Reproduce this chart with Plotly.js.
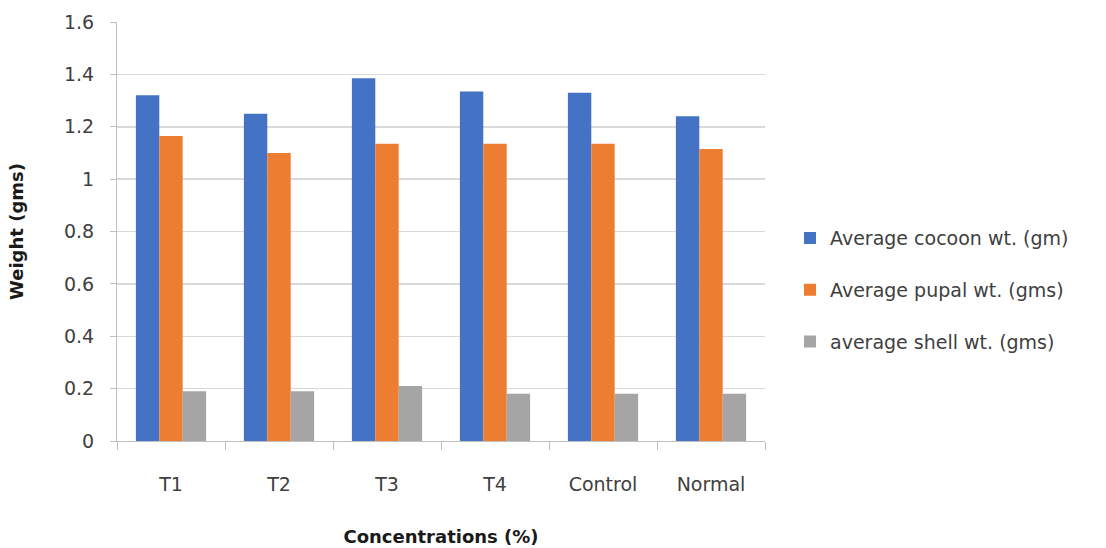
<!DOCTYPE html>
<html>
<head>
<meta charset="utf-8">
<script src="https://cdn.plot.ly/plotly-3.0.1.min.js"></script>
<style>html,body{margin:0;padding:0;background:#fff;}#chart{width:1106px;height:548px;}</style>
</head>
<body>
<div id="chart"></div>
<script>
var categories = ["T1", "T2", "T3", "T4", "Control", "Normal"];
var cocoonWt = [1.32, 1.25, 1.385, 1.335, 1.33, 1.24];
var pupalWt = [1.165, 1.10, 1.135, 1.135, 1.135, 1.115];
var shellWt = [0.19, 0.19, 0.21, 0.18, 0.18, 0.18];
var seriesNames = ["Average cocoon wt. (gm)", "Average pupal wt. (gms)", "average shell wt. (gms)"];
var yTicks = [0, 0.2, 0.4, 0.6, 0.8, 1, 1.2, 1.4, 1.6];
var yTickText = ["0", "0.2", "0.4", "0.6", "0.8", "1", "1.2", "1.4", "1.6"];

var colors = ["#4472C4", "#ED7D31", "#A5A5A5"];
var series = [cocoonWt, pupalWt, shellWt];
var traces = series.map(function (vals, i) {
  return {
    type: "bar",
    x: categories,
    y: vals,
    name: seriesNames[i],
    legendgroup: "g" + i,
    marker: {color: colors[i]},
    hoverinfo: "none"
  };
});

var font = "'DejaVu Sans', 'Open Sans', sans-serif";
var textColor = "#404040";
var layout = {
  width: 1106,
  height: 548,
  margin: {l: 117, r: 341, t: 22, b: 107},
  paper_bgcolor: "#ffffff",
  plot_bgcolor: "#ffffff",
  barmode: "group",
  bargap: 0.35,
  bargroupgap: 0,
  font: {family: font, size: 19, color: textColor},
  showlegend: true,
  legend: {
    x: 1.0386, xanchor: "left",
    y: 0.36, yanchor: "middle",
    traceorder: "grouped",
    tracegroupgap: 24,
    font: {family: font, size: 19, color: textColor},
    itemwidth: 30
  },
  xaxis: {
    type: "category",
    showline: true,
    linecolor: "#bfbfbf",
    linewidth: 1,
    ticks: "outside",
    tickson: "boundaries",
    ticklen: 8,
    tickcolor: "#bfbfbf",
    ticklabelstandoff: 26,
    showgrid: false,
    tickfont: {family: font, size: 19, color: textColor},
    title: {text: "Concentrations (%)", font: {family: font, size: 18, color: "#1a1a1a", weight: "bold"}, standoff: 36}
  },
  yaxis: {
    range: [0, 1.6],
    tickvals: yTicks,
    ticktext: yTickText,
    showline: true,
    linecolor: "#bfbfbf",
    linewidth: 1,
    ticks: "outside",
    ticklen: 6,
    tickcolor: "#bfbfbf",
    ticklabelstandoff: 12,
    showgrid: true,
    gridcolor: "#d9d9d9",
    gridwidth: 1.5,
    zeroline: false,
    tickfont: {family: font, size: 19, color: textColor},
    title: {text: "Weight (gms)", font: {family: font, size: 18, color: "#1a1a1a", weight: "bold"}, standoff: 35}
  }
};

Plotly.newPlot("chart", traces, layout, {displayModeBar: false, staticPlot: true});
</script>
</body>
</html>
